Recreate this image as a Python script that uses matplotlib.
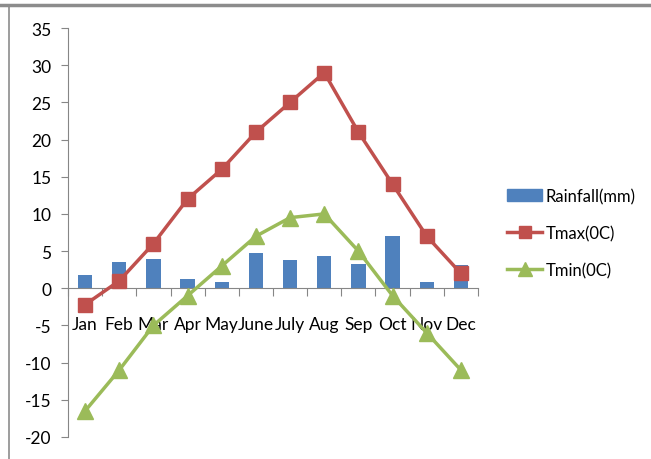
import matplotlib.pyplot as plt
from matplotlib.lines import Line2D
from matplotlib.patches import Patch

months = ["Jan", "Feb", "Mar", "Apr", "May", "June", "July", "Aug", "Sep", "Oct", "Nov", "Dec"]
rainfall = [1.8, 3.6, 3.9, 1.3, 0.85, 4.7, 3.75, 4.3, 3.3, 7.0, 0.85, 3.15]
tmax = [-2.2, 1, 6, 12, 16, 21, 25, 29, 21, 14, 7, 2]
tmin = [-16.5, -11, -5, -1, 3, 7, 9.5, 10, 5, -1, -6, -11]

blue = "#4f81bd"
red = "#c0504d"
green = "#9bbb59"
grey = "#868686"

plt.rcParams["font.family"] = ["Lato", "DejaVu Sans"]
plt.rcParams["axes.unicode_minus"] = False

fig = plt.figure(figsize=(6.51, 4.60), dpi=100)
ax = fig.add_axes([68 / 651, 22 / 460, 410 / 651, 409 / 460])

x = list(range(len(months)))
ax.bar(x, rainfall, width=0.42, color=blue, zorder=2)
ax.plot(x, tmax, color=red, linewidth=2.5, marker="s", markersize=10, zorder=3)
ax.plot(x, tmin, color=green, linewidth=2.5, marker="^", markersize=11, zorder=4)

ax.set_xlim(-0.5, 11.5)
ax.set_ylim(-20, 35)
ax.set_yticks(range(-20, 36, 5))
ax.tick_params(axis="y", direction="out", length=5, color=grey, labelsize=12.5, pad=7)

# category axis sits on y = 0, ticks between the months
ax.spines["top"].set_visible(False)
ax.spines["right"].set_visible(False)
ax.spines["left"].set_color(grey)
ax.spines["bottom"].set_position(("data", 0))
ax.spines["bottom"].set_color(grey)
ax.set_xticks([i - 0.5 for i in range(13)])
ax.set_xticklabels([])
ax.set_xticks(x, minor=True)
ax.set_xticklabels(months, minor=True)
ax.tick_params(axis="x", which="major", direction="out", length=6, color=grey)
ax.tick_params(axis="x", which="minor", length=0, labelsize=12.5, pad=20)

handles = [
    Patch(color=blue),
    Line2D([], [], color=red, linewidth=2.5, marker="s", markersize=9),
    Line2D([], [], color=green, linewidth=2.5, marker="^", markersize=10),
]
fig.legend(handles, ["Rainfall(mm)", "Tmax(0C)", "Tmin(0C)"], loc="upper left",
           bbox_to_anchor=(492 / 651, 1 - 174 / 460), frameon=False, fontsize=12,
           handlelength=2.1, labelspacing=1.25, handletextpad=0.2)

# outer frame lines
fig.add_artist(Line2D([0, 1], [1 - 5.5 / 460] * 2, color="#8c8c8c", linewidth=2.5,
                      transform=fig.transFigure))
fig.add_artist(Line2D([8.5 / 651] * 2, [0, 1 - 5.5 / 460], color="#8c8c8c", linewidth=1.2,
                      transform=fig.transFigure))

fig.savefig("out.png", dpi=100)
